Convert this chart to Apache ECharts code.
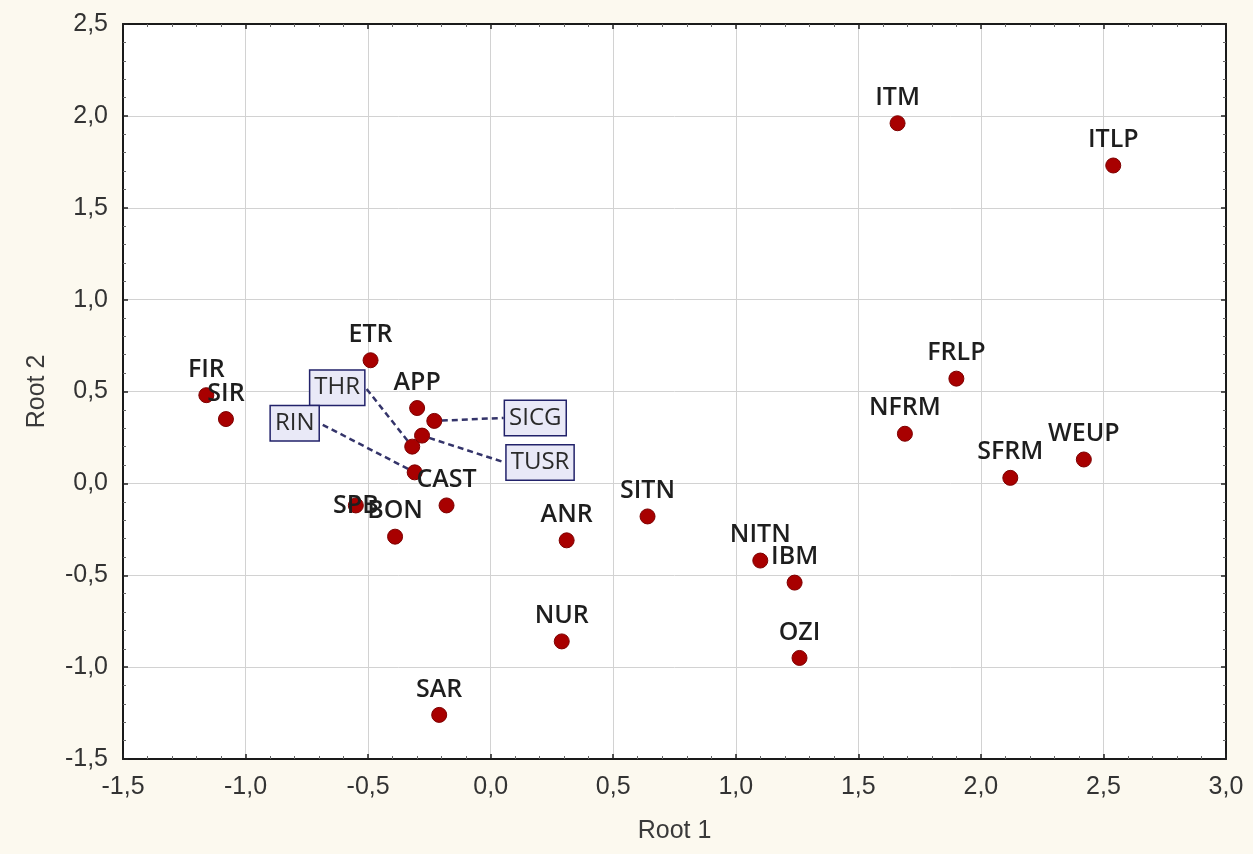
<!DOCTYPE html>
<html>
<head>
<meta charset="utf-8">
<script src="https://cdn.jsdelivr.net/npm/echarts@6/dist/echarts.min.js"></script>
<style>
  html, body { margin: 0; padding: 0; background: #fcf9ef; }
  #chart { width: 1253px; height: 854px; }
</style>
</head>
<body>
<div id="chart"></div>
<script>
// Discriminant scores of each group on the first two canonical roots
const names = ['ITM', 'ITLP', 'FRLP', 'NFRM', 'SFRM', 'WEUP', 'FIR', 'SIR', 'ETR', 'APP', 'SICG', 'TUSR',
               'THR', 'RIN', 'CAST', 'SPB', 'BON', 'ANR', 'SITN', 'NITN', 'IBM', 'NUR', 'OZI', 'SAR'];
const root1 = [1.66, 2.54, 1.90, 1.69, 2.12, 2.42, -1.16, -1.08, -0.49, -0.30, -0.23, -0.28,
               -0.32, -0.31, -0.18, -0.55, -0.39, 0.31, 0.64, 1.10, 1.24, 0.29, 1.26, -0.21];
const root2 = [1.96, 1.73, 0.57, 0.27, 0.03, 0.13, 0.48, 0.35, 0.67, 0.41, 0.34, 0.26,
               0.20, 0.06, -0.12, -0.12, -0.29, -0.31, -0.18, -0.42, -0.54, -0.86, -0.95, -1.26];

// Axis ranges and tick step
const xRange = [-1.5, 3.0];
const yRange = [-1.5, 2.5];
const tickStep = 0.5;
const axisTitles = ['Root 1', 'Root 2'];

// Boxed callouts for the crowded cluster: label offset from its point (px)
const callouts = { THR: [-75, -59], RIN: [-120, -49], SICG: [101, -3], TUSR: [118, 27] };
// Labels drawn centred on their point instead of above it
const centred = ['SPB'];

const fmt = v => v.toFixed(1).replace('.', ',');

const tickFont = { fontFamily: '"Liberation Sans", Arial, sans-serif', fontSize: 25, color: '#333' };

const points = names.map((n, i) => {
  const item = { name: n, value: [root1[i], root2[i]] };
  if (callouts[n]) {
    item.label = {
      position: 'inside',
      fontWeight: 'normal',
      fontSize: 24,
      color: '#2a2a2a',
      backgroundColor: '#e9e9f7',
      borderColor: '#22226a',
      borderWidth: 1.5,
      padding: [6, 4, 4, 4]
    };
    item.labelLine = {
      show: true,
      length2: 0,
      lineStyle: { color: '#34346a', width: 2.5, type: [6, 4] }
    };
  } else if (centred.includes(n)) {
    item.label = { position: 'inside' };
  }
  return item;
});

const chart = echarts.init(document.getElementById('chart'));

const baseX = {
  type: 'value', min: xRange[0], max: xRange[1], interval: tickStep,
  axisLine: { show: true, onZero: false, lineStyle: { color: '#1a1a1a', width: 2 } },
  axisTick: { show: true, inside: true, length: 5, lineStyle: { color: '#222', width: 1.5 } },
  minorTick: { show: true, splitNumber: 5, length: 3, lineStyle: { color: '#666', width: 1 } },
};
const baseY = {
  type: 'value', min: yRange[0], max: yRange[1], interval: tickStep,
  axisLine: { show: true, onZero: false, lineStyle: { color: '#1a1a1a', width: 2 } },
  axisTick: { show: true, inside: true, length: 5, lineStyle: { color: '#222', width: 1.5 } },
  minorTick: { show: true, splitNumber: 5, length: 3, lineStyle: { color: '#666', width: 1 } },
};

chart.setOption({
  animation: false,
  backgroundColor: '#fcf9ef',
  grid: {
    left: 123, top: 24, right: 27, bottom: 95,
    show: true, backgroundColor: '#ffffff', borderWidth: 0
  },
  xAxis: [
    Object.assign({}, baseX, {
      position: 'bottom',
      name: axisTitles[0], nameLocation: 'middle', nameGap: 60,
      nameTextStyle: Object.assign({}, tickFont, { color: '#3a3a3a' }),
      axisLabel: Object.assign({ margin: 16, formatter: fmt }, tickFont),
      splitLine: { show: true, lineStyle: { color: '#d2d2d2', width: 1 } }
    }),
    Object.assign({}, baseX, {
      position: 'top',
      axisLabel: { show: false },
      splitLine: { show: false }
    })
  ],
  yAxis: [
    Object.assign({}, baseY, {
      position: 'left',
      name: axisTitles[1], nameLocation: 'middle', nameGap: 73,
      nameTextStyle: Object.assign({}, tickFont, { color: '#3a3a3a' }),
      axisLabel: Object.assign({ margin: 15, formatter: fmt }, tickFont),
      splitLine: { show: true, lineStyle: { color: '#d2d2d2', width: 1 } }
    }),
    Object.assign({}, baseY, {
      position: 'right',
      axisLabel: { show: false },
      splitLine: { show: false }
    })
  ],
  series: [{
    type: 'scatter',
    xAxisIndex: 0, yAxisIndex: 0,
    symbol: 'circle',
    symbolSize: 15,
    itemStyle: { color: '#a80000', borderColor: '#7d0000', borderWidth: 1, opacity: 1 },
    label: {
      show: true,
      position: 'top',
      distance: 5,
      formatter: '{b}',
      fontFamily: '"Open Sans", sans-serif',
      fontSize: 25,
      fontWeight: 600,
      color: '#1e1e1e'
    },
    labelLayout: p => {
      const c = callouts[names[p.dataIndex]];
      return c ? { dx: c[0], dy: c[1] } : {};
    },
    emphasis: { disabled: true },
    data: points
  }]
});
</script>
</body>
</html>
